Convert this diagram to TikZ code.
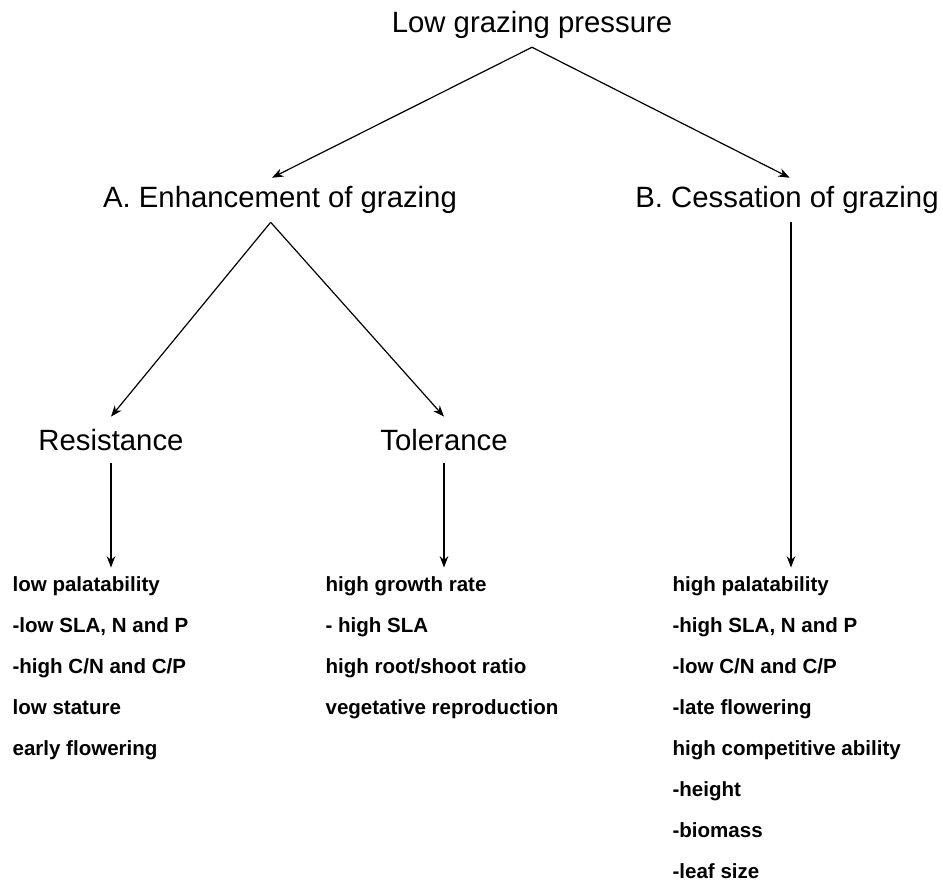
\documentclass[tikz,border=0pt]{standalone}
\usepackage{fontspec}
\setmainfont{Liberation Sans}
\usepackage{tikz}
\usetikzlibrary{arrows.meta}

\begin{document}
\begin{tikzpicture}[x=0.75pt, y=-0.75pt, >={Stealth[length=8.5pt, width=6.5pt]}, line width=0.9pt,
    hdr/.style={inner sep=6pt, font=\fontsize{22}{26}\selectfont},
    sub/.style={hdr, inner sep=9pt},
    item/.style={anchor=base west, inner sep=0pt, font=\fontsize{15.4}{18}\selectfont\bfseries}]
  \useasboundingbox (0,0) rectangle (943,882);
  % headings
  \node[hdr] (low) at (532,25) {Low grazing pressure};
  \node[hdr] (enh) at (280,200) {A. Enhancement of grazing};
  \node[hdr] (ces) at (787,200) {B. Cessation of grazing};
  \node[sub] (res) at (111,440) {Resistance};
  \node[sub] (tol) at (444,440) {Tolerance};
  % trait lists
  \foreach \t [count=\i] in {low palatability, {-low SLA, N and P}, -high C/N and C/P,
      low stature, early flowering}
    \node[item] (r\i) at (12,550+41*\i) {\t};
  \foreach \t [count=\i] in {high growth rate, - high SLA, high root/shoot ratio,
      vegetative reproduction}
    \node[item] (t\i) at (325,550+41*\i) {\t};
  \foreach \t [count=\i] in {high palatability, {-high SLA, N and P}, -low C/N and C/P,
      -late flowering, high competitive ability, -height, -biomass, -leaf size}
    \node[item] (c\i) at (672,550+41*\i) {\t};
  % arrows
  \draw[->] (low.south) -- ([xshift=-6pt]enh.north);
  \draw[->] (low.south) -- ([xshift=2pt]ces.north);
  \draw[->] ([xshift=-7pt]enh.south) -- (res.north);
  \draw[->] ([xshift=-7pt]enh.south) -- (tol.north);
  \draw[->, shorten >=6pt] (res.south) -- (res |- r1.north);
  \draw[->, shorten >=6pt] (tol.south) -- (tol |- t1.north);
  \draw[->, shorten >=6pt] ([xshift=3pt]ces.south) -- ([xshift=3pt]ces |- c1.north);
\end{tikzpicture}
\end{document}
